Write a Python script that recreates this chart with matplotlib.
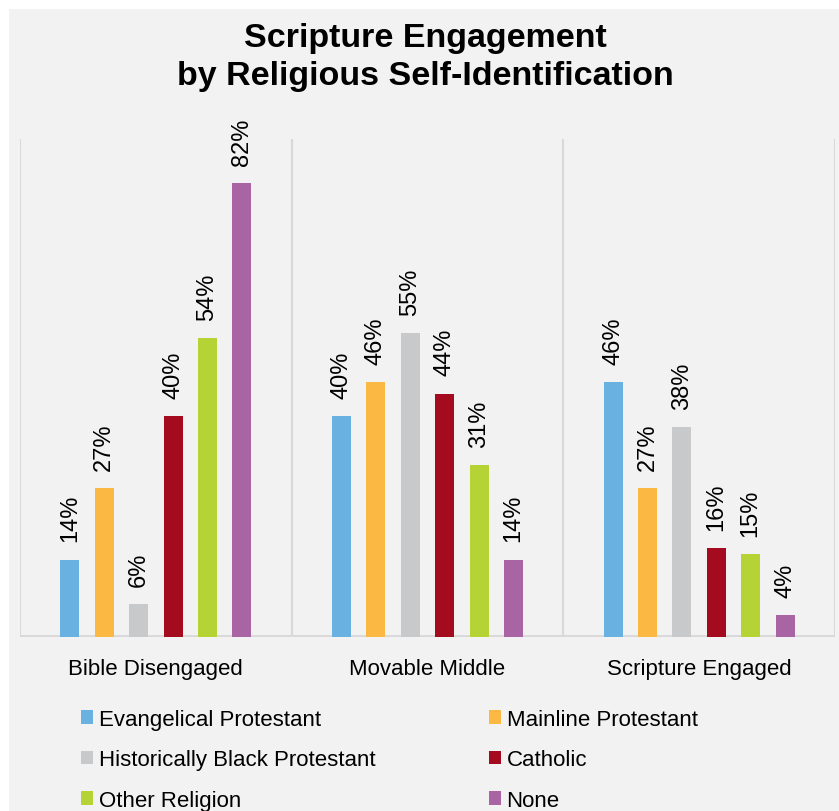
import matplotlib
matplotlib.use("Agg")
import matplotlib.pyplot as plt
from matplotlib.patches import Patch, Rectangle
import numpy as np

# Data
categories = ["Bible Disengaged", "Movable Middle", "Scripture Engaged"]
groups = ["Evangelical Protestant", "Mainline Protestant",
          "Historically Black Protestant", "Catholic", "Other Religion", "None"]
evangelical = [14, 40, 46]
mainline = [27, 46, 27]
black_protestant = [6, 55, 38]
catholic = [40, 44, 16]
other_religion = [54, 31, 15]
none_ = [82, 14, 4]
series = [evangelical, mainline, black_protestant, catholic, other_religion, none_]
colors = ["#69B1E1", "#FBB843", "#C8C9CB", "#A50B1F", "#B5D335", "#A864A3"]

BG = "#F2F2F2"
GRID = "#D9D9D9"
FONT = ["Liberation Sans", "DejaVu Sans"]
plt.rcParams["font.family"] = FONT

fig = plt.figure(figsize=(8.39, 8.12), dpi=100, facecolor="white")
# gray panel behind everything, leaving a thin white strip on top/left
fig.patches.append(Rectangle((9 / 839, 0), 1 - 9 / 839, 1 - 10 / 812,
                             transform=fig.transFigure, facecolor=BG,
                             edgecolor="none", zorder=-10))

ax = fig.add_axes([20 / 839, (812 - 638) / 812, 815 / 839, 498 / 812])
ax.set_facecolor(BG)
ax.patch.set_alpha(0)

x = np.arange(len(categories))
slot = 0.1265
width = 0.07
for i, (vals, col) in enumerate(zip(series, colors)):
    pos = x + (i - 2.5) * slot
    ax.bar(pos, vals, width=width, color=col, edgecolor="none", zorder=3)
    for px, v in zip(pos, vals):
        ax.annotate(f"{v}%", (px, v), xytext=(0, 13), textcoords="offset points",
                    rotation=90, ha="center", va="bottom", fontsize=17,
                    color="#000000")

ax.set_xlim(-0.5, 2.5)
ax.set_ylim(0, 90)
for xv in [-0.5, 0.5, 1.5, 2.5]:
    ax.axvline(xv, color=GRID, lw=1.5, zorder=1)
ax.axhline(0, color=GRID, lw=3.5, zorder=2)

for s in ax.spines.values():
    s.set_visible(False)
ax.set_yticks([])
ax.set_xticks(x)
ax.set_xticklabels(categories, fontsize=16)
ax.tick_params(axis="x", length=0, pad=15)

fig.text(0.507, 1 - 23 / 812, "Scripture Engagement\nby Religious Self-Identification",
         ha="center", va="top", fontsize=24.5, fontweight="bold",
         linespacing=1.3)

handles = [Patch(facecolor=c, edgecolor="none", label=g) for c, g in zip(colors, groups)]
order = [0, 2, 4, 1, 3, 5]
fig.legend([handles[k] for k in order], [groups[k] for k in order],
           loc="upper left", bbox_to_anchor=(81 / 839, 1 - 710 / 812),
           ncol=2, frameon=False, fontsize=16, handlelength=0.55,
           handleheight=0.55, handletextpad=0.25, labelspacing=0.87,
           columnspacing=5.1, borderaxespad=0, borderpad=0)

fig.savefig("out.png", dpi=100, facecolor="white")
